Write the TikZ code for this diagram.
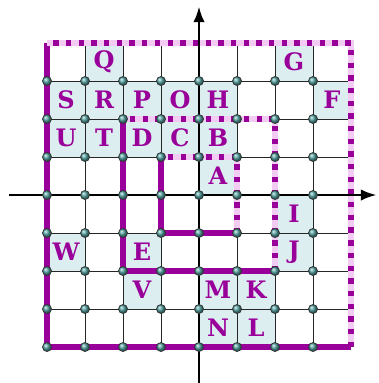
\documentclass[tikz,border=0pt]{standalone}
\usepackage{fontspec}
\setmainfont{DejaVu Serif}
\usepackage{tikz}
\usetikzlibrary{arrows.meta}
\definecolor{cPurp}{HTML}{990099}
\definecolor{cPink}{HTML}{F2CCF2}
\definecolor{cCell}{HTML}{DCEEF0}
\definecolor{cDot}{HTML}{4F9E9C}
\tikzset{
  cell/.style={fill=cCell},
  gridline/.style={draw=black!85, line width=0.7pt},
  lab/.style={text=cPurp, font=\fontsize{18}{18}\selectfont\bfseries, inner sep=0pt},
  wall/.style={draw=cPurp, line width=4pt},
  gapbg/.style={draw=cPink, line width=5pt},
  gap/.style={draw=cPurp, line width=4pt, dash pattern=on 4pt off 5.5pt},
  axis/.style={-{Latex[length=4.2mm,width=3mm]}, line width=2.2pt},
  dot/.style={circle, draw=black!80, line width=0.5pt, shading=ball,
              ball color=cDot, minimum size=2.4mm, inner sep=0pt},
}
\begin{document}
\begin{tikzpicture}
  \useasboundingbox (-5.237,-4.947) rectangle (4.711,5.132);

  % shaded cells
  \foreach \x/\y in {-3/3, 2/3,
                     -4/2, -3/2, -2/2, -1/2, 0/2, 3/2,
                     -4/1, -3/1, -2/1, -1/1, 0/1,
                     0/0, 2/-1,
                     -4/-2, -2/-2, 2/-2,
                     -2/-3, 0/-3, 1/-3,
                     0/-4, 1/-4}
    \fill[cell] (\x,\y) rectangle ++(1,1);

  \draw[gridline] (-4,-4) grid (4,4);

  % solid sides of the three squares
  \draw[wall] (-4,4) -- (-4,-4) -- (4,-4);
  \draw[wall] (-2,2) -- (-2,-2) -- (2,-2);
  \draw[wall] (-1,1) -- (-1,-1) -- (1,-1);

  % dashed sides
  \foreach \r in {4,2,1} {
    \draw[gapbg] (\r,-\r) -- (\r,\r) -- (-\r,\r);
    \draw[gap] (\r,-\r) -- (\r,\r) -- (-\r,\r);
  }

  % axes
  \coordinate (xl) at (-5,0);
  \coordinate (xr) at (4.68,0);
  \coordinate (yb) at (0,-5);
  \coordinate (yt) at (0,4.97);
  \draw[axis] (xl) -- (xr);
  \draw[axis] (yb) -- (yt);

  \foreach \x in {-4,...,3}
    \foreach \y in {-4,...,3}
      \node[dot] (d\x\y) at (\x,\y) {};

  % letters
  \node[lab] (Q) at (-2.5,3.5) {Q};
  \node[lab] (G) at (2.5,3.5) {G};
  \node[lab] (S) at (-3.5,2.5) {S};
  \node[lab] (R) at (-2.5,2.5) {R};
  \node[lab] (P) at (-1.5,2.5) {P};
  \node[lab] (O) at (-0.5,2.5) {O};
  \node[lab] (H) at (0.5,2.5) {H};
  \node[lab] (F) at (3.5,2.5) {F};
  \node[lab] (U) at (-3.5,1.5) {U};
  \node[lab] (T) at (-2.5,1.5) {T};
  \node[lab] (D) at (-1.5,1.5) {D};
  \node[lab] (C) at (-0.5,1.5) {C};
  \node[lab] (B) at (0.5,1.5) {B};
  \node[lab] (A) at (0.5,0.5) {A};
  \node[lab] (I) at (2.5,-0.5) {I};
  \node[lab] (W) at (-3.5,-1.5) {W};
  \node[lab] (E) at (-1.5,-1.5) {E};
  \node[lab] (J) at (2.5,-1.5) {J};
  \node[lab] (V) at (-1.5,-2.5) {V};
  \node[lab] (M) at (0.5,-2.5) {M};
  \node[lab] (K) at (1.5,-2.5) {K};
  \node[lab] (N) at (0.5,-3.5) {N};
  \node[lab] (L) at (1.5,-3.5) {L};
\end{tikzpicture}
\end{document}
